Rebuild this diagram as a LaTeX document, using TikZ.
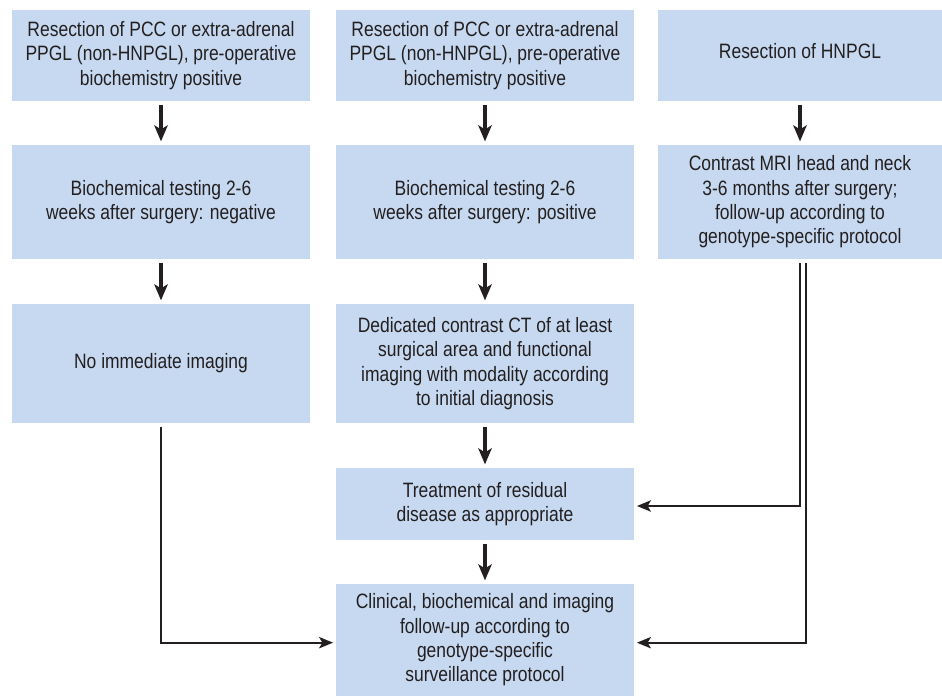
\documentclass[tikz,border=0pt]{standalone}
\usepackage{fontspec}
\setmainfont[FakeStretch=0.84]{Liberation Sans}
\usetikzlibrary{arrows.meta}
\definecolor{boxblue}{HTML}{C7D9F0}
\definecolor{ink}{HTML}{231F20}
\begin{document}
\begin{tikzpicture}[x=0.75pt,y=-0.75pt,
  box/.style={fill=boxblue, draw=none, align=center, text=ink, inner sep=0pt,
    font=\fontsize{15.6pt}{18.3pt}\selectfont},
  w1/.style={minimum width=223.5pt},
  w3/.style={minimum width=213pt},
  flow/.style={draw=ink, line width=2.4pt, -{Stealth[length=12pt,width=10pt,inset=3pt]}},
  link/.style={draw=ink, line width=1.5pt, -{Stealth[length=10.5pt,width=8.5pt,inset=2.5pt]}}
]
\useasboundingbox (0,0) rectangle (942,696);
% row 1
\node[box,w1,minimum height=68.25pt] (a1) at (161,55.5) {Resection of PCC or extra-adrenal\\PPGL (non-HNPGL), pre-operative\\biochemistry positive};
\node[box,w1,minimum height=68.25pt] (b1) at (485,55.5) {Resection of PCC or extra-adrenal\\PPGL (non-HNPGL), pre-operative\\biochemistry positive};
\node[box,w3,minimum height=68.25pt] (c1) at (800,55.5) {};
\node[box,fill=none] at (800,51) {Resection of HNPGL};
% row 2
\node[box,w1,minimum height=85.5pt] (a2) at (161,202) {Biochemical testing 2-6\\weeks after surgery: negative};
\node[box,w1,minimum height=85.5pt] (b2) at (485,202) {Biochemical testing 2-6\\weeks after surgery: positive};
\node[box,w3,minimum height=85.5pt] (c2) at (800,202) {Contrast MRI head and neck\\3-6 months after surgery;\\follow-up according to\\genotype-specific protocol};
% row 3
\node[box,w1,minimum height=89.25pt] (a3) at (161,363.5) {No immediate imaging};
\node[box,w1,minimum height=89.25pt] (b3) at (485,363.5) {Dedicated contrast CT of at least\\surgical area and functional\\imaging with modality according\\to initial diagnosis};
% row 4
\node[box,w1,minimum height=54pt] (b4) at (485,504) {Treatment of residual\\disease as appropriate};
% row 5
\node[box,w1,minimum height=84pt] (b5) at (485,640) {Clinical, biochemical and imaging\\follow-up according to\\genotype-specific\\surveillance protocol};
% vertical flow arrows
\draw[flow] ([yshift=-2.5pt]a1.south) -- ([yshift=2.5pt]a2.north);
\draw[flow] ([yshift=-2.5pt]b1.south) -- ([yshift=2.5pt]b2.north);
\draw[flow] ([yshift=-2.5pt]c1.south) -- ([yshift=2.5pt]c2.north);
\draw[flow] ([yshift=-2.5pt]a2.south) -- ([yshift=2.5pt]a3.north);
\draw[flow] ([yshift=-2.5pt]b2.south) -- ([yshift=2.5pt]b3.north);
\draw[flow] ([yshift=-2.5pt]b3.south) -- ([yshift=2.5pt]b4.north);
\draw[flow] ([yshift=-2.5pt]b4.south) -- ([yshift=2.5pt]b5.north);
% connectors
\draw[link] ([yshift=-3pt]a3.south) |- ([xshift=-2pt,yshift=-2pt]b5.west);
\draw[link] ([yshift=-3pt]c2.south) |- ([xshift=2pt,yshift=-1.5pt]b4.east);
\draw[link] ([xshift=4.5pt,yshift=-3pt]c2.south) |- ([xshift=2pt,yshift=-2pt]b5.east);
\end{tikzpicture}
\end{document}
